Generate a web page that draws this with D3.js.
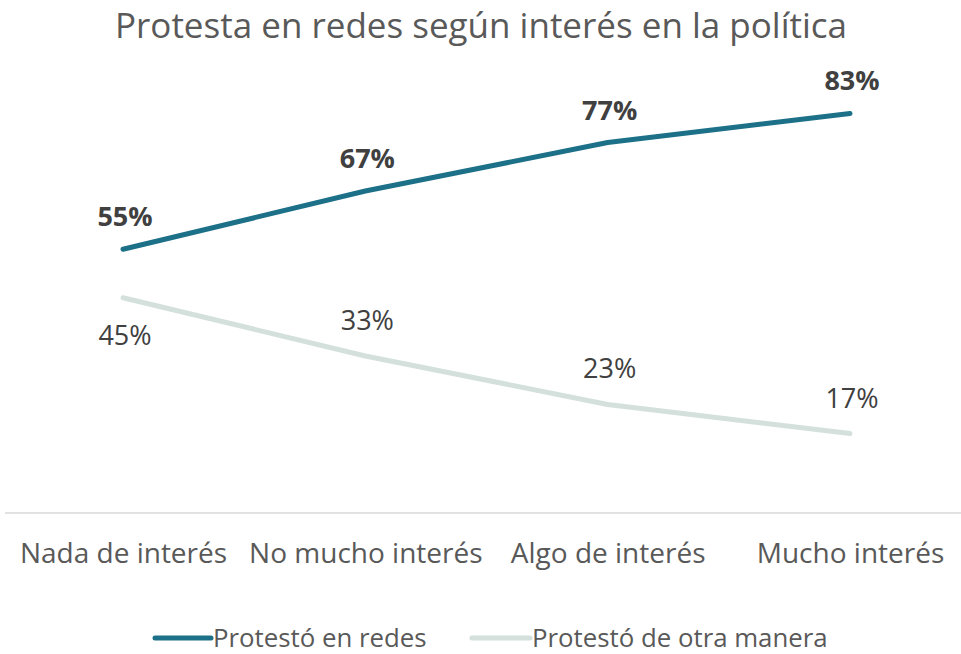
<!DOCTYPE html>
<html>
<head>
<meta charset="utf-8">
<script src="https://cdn.jsdelivr.net/npm/d3@7/dist/d3.min.js"></script>
<style>
  html, body { margin: 0; padding: 0; background: #fff; }
  svg { display: block; font-family: "Open Sans", Lato, sans-serif; }
</style>
</head>
<body>
<svg id="chart" width="961" height="654"></svg>
<script>
// Chart data
const title = "Protesta en redes según interés en la política";
const categories = ["Nada de interés", "No mucho interés", "Algo de interés", "Mucho interés"];
const seriesNames = ["Protestó en redes", "Protestó de otra manera"];
const redes = [55, 67, 77, 83];
const otra = [45, 33, 23, 17];
// label placement for each point: -1 above the line, +1 below
const redesLabelSide = [-1, -1, -1, -1];
const otraLabelSide = [1, -1, -1, -1];

const colors = ["#1c7088", "#d3e0dc"];

const svg = d3.select("#chart");
const W = 961, H = 654;

const x = d3.scalePoint().domain(categories).range([123, 850]);
const y = d3.scaleLinear().domain([0, 100]).range([516, 31]);

// Title
svg.append("text")
  .attr("x", 481).attr("y", 38)
  .attr("text-anchor", "middle")
  .attr("fill", "#595959")
  .style("font-size", "35px")
  .text(title);

// Category axis (baseline only, no ticks)
const xAxis = d3.axisBottom(x).tickSize(0).tickPadding(30);
const gx = svg.append("g").attr("transform", `translate(0,${513})`).call(xAxis);
gx.select(".domain").remove();
gx.append("line").attr("x1", 5).attr("x2", W).attr("y1", 0).attr("y2", 0)
  .attr("stroke", "#d9d9d9").attr("stroke-width", 1.5);
gx.selectAll(".tick text")
  .attr("fill", "#595959")
  .style("font-family", "'Open Sans', Lato, sans-serif")
  .style("font-size", "28px");

const line = d3.line().x((d, i) => x(categories[i])).y(d => y(d));

const series = [
  { name: seriesNames[0], values: redes, side: redesLabelSide, color: colors[0], bold: true, above: -23 },
  { name: seriesNames[1], values: otra, side: otraLabelSide, color: colors[1], bold: false, above: -26 }
];

series.slice().reverse().forEach(s => {
  svg.append("path")
    .datum(s.values)
    .attr("d", line)
    .attr("fill", "none")
    .attr("stroke", s.color)
    .attr("stroke-width", 5)
    .attr("stroke-linecap", "round")
    .attr("stroke-linejoin", "round");
});

series.forEach(s => {
  svg.append("g").selectAll("text")
    .data(s.values)
    .join("text")
    .attr("x", (d, i) => x(categories[i]) + 2)
    .attr("y", (d, i) => y(d) + (s.side[i] < 0 ? s.above : 47))
    .attr("text-anchor", "middle")
    .attr("fill", "#404040")
    .style("font-size", "27px")
    .style("font-weight", s.bold ? "bold" : "normal")
    .text(d => d + "%");
});

// Legend
const legend = [
  { name: seriesNames[0], color: colors[0], x0: 155, x1: 211, tx: 213 },
  { name: seriesNames[1], color: colors[1], x0: 472, x1: 530, tx: 532 }
];
const lg = svg.append("g");
legend.forEach(l => {
  lg.append("line")
    .attr("x1", l.x0).attr("x2", l.x1).attr("y1", 638).attr("y2", 638)
    .attr("stroke", l.color).attr("stroke-width", 5).attr("stroke-linecap", "round");
  lg.append("text")
    .attr("x", l.tx).attr("y", 647)
    .attr("fill", "#595959")
    .style("font-size", "25.8px")
    .text(l.name);
});
</script>
</body>
</html>
